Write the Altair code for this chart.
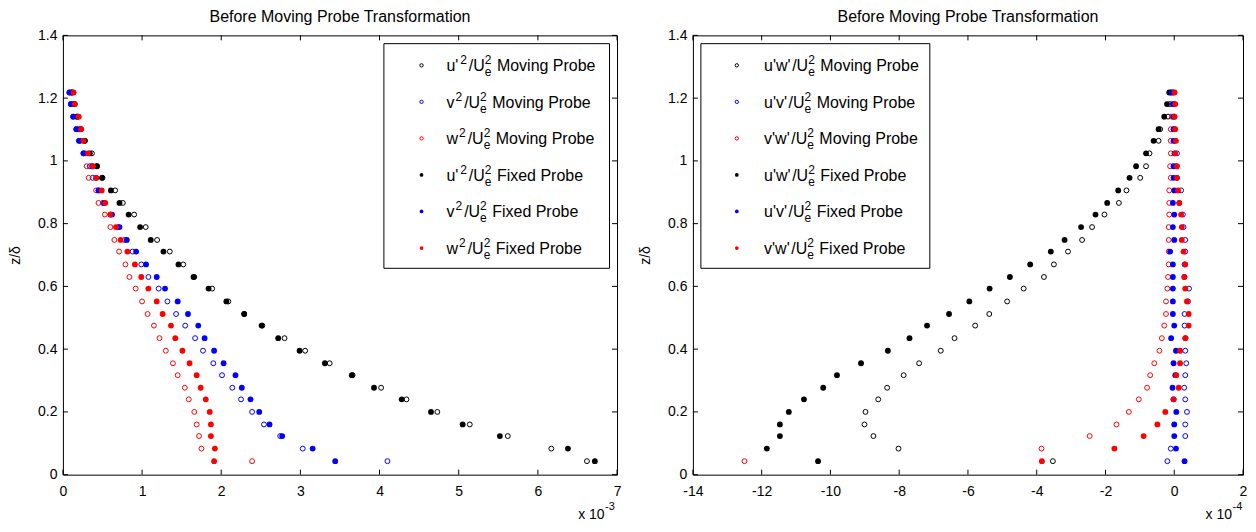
import altair as alt
import pandas as pd

FONT = "Liberation Sans"

# ---------------- data ----------------
z = [0.043, 0.083, 0.123, 0.160, 0.200, 0.240, 0.277, 0.317, 0.355, 0.395, 0.435,
     0.475, 0.512, 0.552, 0.593, 0.630, 0.670, 0.711, 0.748, 0.789, 0.829, 0.866,
     0.906, 0.946, 0.983, 1.024, 1.064, 1.101, 1.141, 1.181, 1.218]

# left panel (x 10^-3)
uu_moving = [6.62, 6.17, 5.62, 5.14, 4.73, 4.34, 4.02, 3.66, 3.37, 3.06, 2.80, 2.52, 2.29, 2.09, 1.885, 1.66,
             1.52, 1.35, 1.19, 1.046, 0.90, 0.757, 0.66, 0.50, 0.43, 0.367, 0.28, 0.23, 0.19, 0.15, 0.12]
vv_moving = [4.10, 3.03, 2.745, 2.54, 2.39, 2.25, 2.14, 2.01, 1.90, 1.77, 1.67, 1.545, 1.43, 1.32, 1.21, 1.08,
             0.99, 0.88, 0.78, 0.70, 0.60, 0.505, 0.45, 0.375, 0.34, 0.26, 0.20, 0.17, 0.13, 0.10, 0.08]
ww_moving = [2.39, 1.75, 1.72, 1.69, 1.66, 1.59, 1.54, 1.45, 1.39, 1.30, 1.22, 1.15, 1.07, 1.00, 0.92, 0.84,
             0.79, 0.71, 0.65, 0.60, 0.53, 0.45, 0.42, 0.325, 0.30, 0.28, 0.22, 0.20, 0.17, 0.13, 0.11]
uu_fixed = [6.72, 6.38, 5.52, 5.05, 4.65, 4.28, 3.93, 3.65, 3.31, 2.99, 2.72, 2.51, 2.29, 2.065, 1.84, 1.65,
            1.46, 1.27, 1.11, 0.975, 0.83, 0.715, 0.606, 0.493, 0.43, 0.34, 0.27, 0.22, 0.18, 0.14, 0.11]
vv_fixed = [3.44, 3.155, 2.77, 2.61, 2.48, 2.37, 2.26, 2.18, 2.03, 1.91, 1.79, 1.71, 1.58, 1.45, 1.29, 1.185,
            1.05, 0.925, 0.807, 0.715, 0.62, 0.52, 0.45, 0.42, 0.37, 0.26, 0.21, 0.17, 0.13, 0.10, 0.085]
ww_fixed = [1.91, 1.92, 1.87, 1.87, 1.855, 1.805, 1.74, 1.69, 1.60, 1.51, 1.42, 1.365, 1.26, 1.185, 1.08, 0.99,
            0.91, 0.815, 0.73, 0.67, 0.60, 0.535, 0.49, 0.42, 0.38, 0.32, 0.26, 0.23, 0.20, 0.15, 0.135]

# right panel (x 10^-4)
uw_moving = [-3.53, -8.02, -8.75, -9.01, -8.98, -8.61, -8.35, -7.87, -7.42, -6.79, -6.39, -5.79, -5.38, -4.86,
             -4.38, -3.79, -3.50, -3.09, -2.68, -2.39, -2.03, -1.61, -1.39, -0.99, -0.82, -0.72, -0.455, -0.41,
             -0.18, -0.13, -0.10]
uv_moving = [-0.20, -0.10, 0.32, 0.32, 0.37, 0.32, 0.29, 0.32, 0.35, 0.32, 0.33, 0.30, 0.30, 0.40, 0.43, 0.30,
             0.30, 0.32, 0.32, 0.27, 0.25, 0.15, 0.20, 0.08, 0.05, 0.08, 0.02, 0.0, 0.0, 0.0, -0.02]
vw_moving = [-12.5, -3.86, -2.46, -1.68, -1.32, -1.03, -0.79, -0.70, -0.58, -0.43, -0.36, -0.29, -0.24, -0.24,
             -0.20, -0.18, -0.16, -0.16, -0.16, -0.16, -0.145, -0.145, -0.145, -0.10, -0.12, -0.10, -0.10,
             -0.10, -0.07, -0.03, -0.04]
uw_fixed = [-10.36, -11.85, -11.47, -11.47, -11.21, -10.77, -10.21, -9.81, -9.11, -8.33, -7.70, -7.19, -6.55,
            -5.96, -5.37, -4.78, -4.19, -3.59, -3.19, -2.71, -2.29, -1.95, -1.63, -1.30, -1.11, -0.82, -0.60,
            -0.455, -0.29, -0.21, -0.145]
uv_fixed = [0.30, 0.05, 0.0, 0.0, 0.06, -0.02, -0.05, 0.03, -0.02, 0.05, -0.09, 0.0, -0.04, -0.04, -0.04, -0.04,
            -0.04, -0.12, 0.0, -0.04, 0.0, -0.04, 0.0, -0.02, -0.02, 0.01, -0.02, -0.02, -0.02, -0.04, -0.07]
vw_fixed = [-3.85, -1.74, -0.89, -0.49, -0.26, -0.02, 0.13, 0.06, 0.17, 0.17, 0.32, 0.42, 0.42, 0.37, 0.32, 0.29,
            0.32, 0.27, 0.22, 0.22, 0.20, 0.145, 0.11, 0.08, 0.08, 0.03, 0.05, 0.03, 0.01, 0.03, 0.01]

left_xticks = [0, 1, 2, 3, 4, 5, 6, 7]
right_xticks = [-14, -12, -10, -8, -6, -4, -2, 0, 2]
yticks = [0, 0.2, 0.4, 0.6, 0.8, 1.0, 1.2, 1.4]

title_text = "Before Moving Probe Transformation"
ytitle = "z/δ"

# ---------------- helpers ----------------
W = {"u": 556, "'": 240, "2": 556, "/": 278, "U": 722, "e": 556, "v": 500, "w": 722, " ": 278}
MAIN, SMALL = 16, 12
ONE = pd.DataFrame({"k": [0]})
PH = 440


def tw(s, size):
    return sum(W.get(c, 556) for c in s) * size / 1000.0


def text_layer(txt, x, y, size, align="left"):
    return alt.Chart(ONE).mark_text(
        text=txt, font=FONT, fontSize=size, align=align, baseline="alphabetic", color="black"
    ).encode(x=alt.value(x), y=alt.value(y))


def rich_label(parts, x0, base):
    layers = []
    cx = x0
    for txt, kind in parts:
        if kind == "n":
            stripped = txt.lstrip(" ")
            cx += tw(txt[: len(txt) - len(stripped)], MAIN)
            layers.append(text_layer(stripped, cx, base, MAIN))
            cx += tw(stripped, MAIN)
        elif kind == "sup":
            layers.append(text_layer(txt, cx + 1, base - 7, SMALL))
            cx += tw(txt, SMALL) + 3
        else:  # stacked subscript e + superscript 2
            layers.append(text_layer(txt[0], cx, base + 5, SMALL))
            layers.append(text_layer(txt[1], cx, base - 7, SMALL))
            cx += max(tw(txt[0], SMALL), tw(txt[1], SMALL)) + 1
    return layers


def panel(series, xdomain, xticks, pw, legend_entries, box, sym_x, txt_x, exp_label, exp_x):
    dx = 5.0 / pw * (xdomain[1] - xdomain[0])
    xs = alt.Scale(domain=xdomain, nice=False, zero=False)
    ys = alt.Scale(domain=[0, 1.4], nice=False, zero=False)
    ax = alt.Axis(values=xticks, labelExpr="'' + datum.value", title=None, ticks=False, tickSize=0,
                  domain=False, grid=False, labelFontSize=14, labelPadding=10, labelFont=FONT,
                  labelColor="black", labelFlush=False, labelOverlap=False)
    ay = alt.Axis(values=yticks, labelExpr="'' + datum.value", title=ytitle, ticks=False, tickSize=0,
                  domain=False, grid=False, labelFontSize=14, labelPadding=6, labelFont=FONT,
                  labelColor="black", labelFlush=False, labelOverlap=False, titleFont=FONT,
                  titleFontSize=14, titleFontWeight="normal", titleColor="black", titlePadding=15)
    X = lambda f: alt.X(f, type="quantitative", scale=xs, axis=ax)
    Y = lambda f: alt.Y(f, type="quantitative", scale=ys, axis=ay)

    layers = []
    # inward tick marks on all four sides
    dz = 5.0 / PH * 1.4
    xb = pd.DataFrame({"x": xticks, "z": [0.0] * len(xticks), "z2": [dz] * len(xticks)})
    xt = pd.DataFrame({"x": xticks, "z": [1.4] * len(xticks), "z2": [1.4 - dz] * len(xticks)})
    yl = pd.DataFrame({"z": yticks, "x": [xdomain[0]] * len(yticks), "x2": [xdomain[0] + dx] * len(yticks)})
    yr = pd.DataFrame({"z": yticks, "x": [xdomain[1]] * len(yticks), "x2": [xdomain[1] - dx] * len(yticks)})
    for d in (xb, xt):
        layers.append(alt.Chart(d).mark_rule(color="black", strokeWidth=1).encode(
            x=X("x"), y=Y("z"), y2="z2"))
    for d in (yl, yr):
        layers.append(alt.Chart(d).mark_rule(color="black", strokeWidth=1).encode(
            x=X("x"), x2="x2", y=Y("z")))

    # data series, drawn in MATLAB plotting order
    for vals, color, filled in series:
        df = pd.DataFrame({"x": vals, "z": z})
        if filled:
            m = alt.Chart(df).mark_circle(size=34, color=color, opacity=1)
        else:
            m = alt.Chart(df).mark_point(shape="circle", filled=False, size=24, color=color,
                                         strokeWidth=1, opacity=1)
        layers.append(m.encode(x=X("x"), y=Y("z")))

    # legend box
    bx0, by0, bx1, by1 = box
    layers.append(alt.Chart(ONE).mark_rect(fill="white", stroke="black", strokeWidth=1).encode(
        x=alt.value(bx0), x2=alt.value(bx1), y=alt.value(by0), y2=alt.value(by1)))
    for i, (parts, color, filled) in enumerate(legend_entries):
        cy = 30 + 36.6 * i
        if filled:
            sym = alt.Chart(ONE).mark_circle(size=14, color=color, opacity=1)
        else:
            sym = alt.Chart(ONE).mark_point(shape="circle", filled=False, size=11, color=color,
                                            strokeWidth=1, opacity=1)
        layers.append(sym.encode(x=alt.value(sym_x), y=alt.value(cy)))
        layers += rich_label(parts, txt_x, cy + 5.7)

    # exponent label
    layers.append(text_layer("x 10", exp_x, 484, 14, align="right"))
    layers.append(text_layer(exp_label, exp_x + 0.5, 475, 11))

    return alt.layer(*layers).properties(
        width=pw, height=PH,
        title=alt.TitleParams(title_text, font=FONT, fontSize=16, fontWeight="normal", color="black",
                              offset=3),
    )


def entries(prefixes, colors):
    out = []
    for kind_word, filled in ((" Moving Probe", False), (" Fixed Probe", True)):
        for pre, col in zip(prefixes, colors):
            out.append((pre + [("/U", "n"), ("e2", "subsup"), (kind_word, "n")], col, filled))
    return out


colors = ["black", "blue", "red"]

left_series = [(uu_moving, "black", False), (vv_moving, "blue", False), (ww_moving, "red", False),
               (uu_fixed, "black", True), (vv_fixed, "blue", True), (ww_fixed, "red", True)]
right_series = [(uw_moving, "black", False), (uv_moving, "blue", False), (vw_moving, "red", False),
                (uw_fixed, "black", True), (uv_fixed, "blue", True), (vw_fixed, "red", True)]

left_prefix = [[("u'", "n"), ("2", "sup")], [("v", "n"), ("2", "sup")], [("w", "n"), ("2", "sup")]]
right_prefix = [[("u'w'", "n")], [("u'v'", "n")], [("v'w'", "n")]]

left = panel(left_series, [0, 7], left_xticks, 555, entries(left_prefix, colors),
             (321.5, 8.3, 547.5, 233.3), 359.2, 384.2, "-3", 542.5)
right = panel(right_series, [-14, 2], right_xticks, 551, entries(right_prefix, colors),
              (8, 8.3, 237.3, 233.3), 44, 71.3, "-4", 540.0)

chart = alt.hconcat(left, right, spacing=16).properties(
    padding={"left": 0, "top": 0, "right": 0, "bottom": 0},
    background="white",
).configure_view(stroke="black", strokeWidth=1)

chart.save("out.html", embed_options={"renderer": "svg", "actions": False})
